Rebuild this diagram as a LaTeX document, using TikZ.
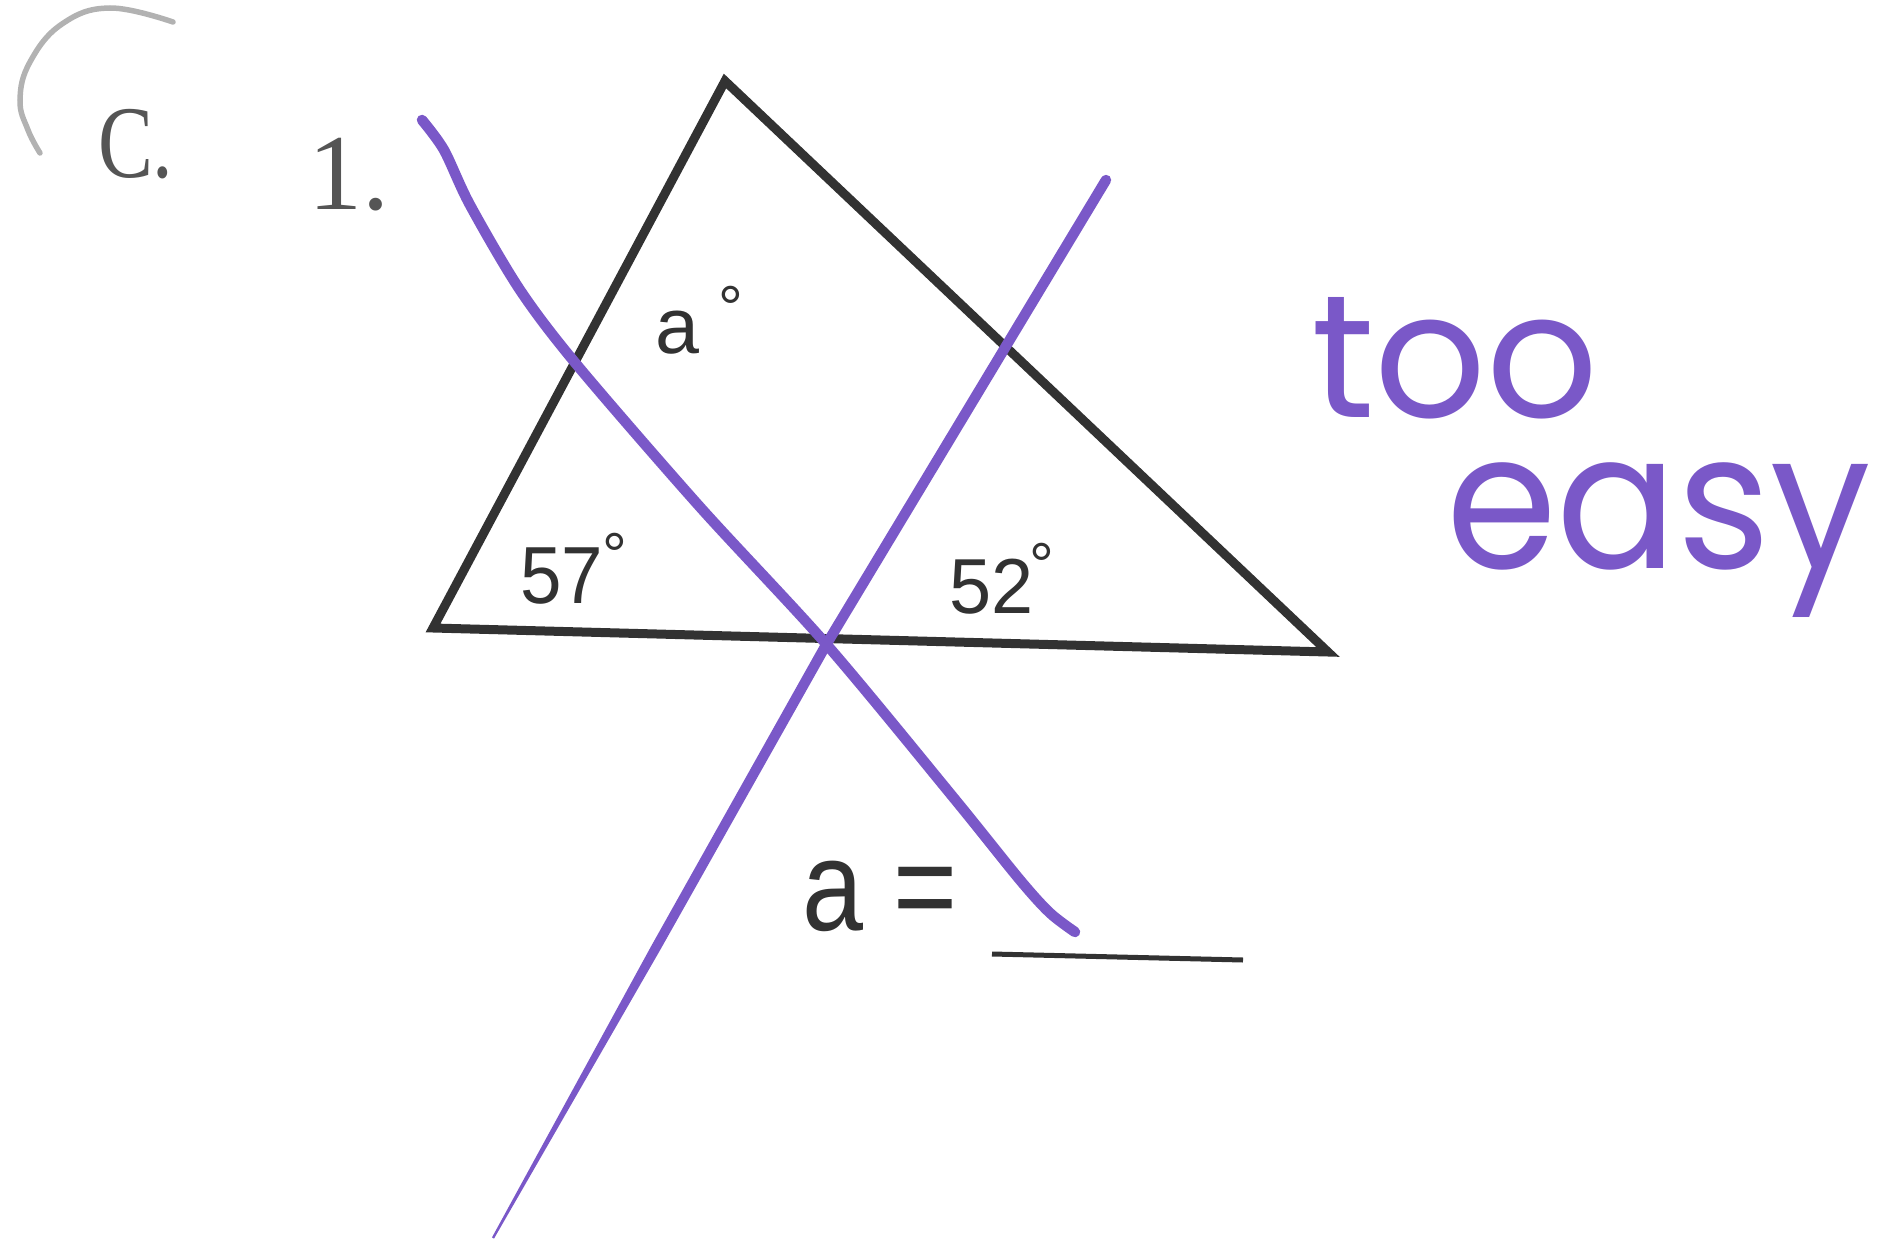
\documentclass[tikz,border=0pt]{standalone}
\usepackage{fontspec}
\setmainfont{Liberation Serif}
\newfontfamily\arialf{Liberation Sans}
\newfontfamily\handf{Poppins}
\usetikzlibrary{calc}
\definecolor{pen}{RGB}{122,88,200}
\definecolor{ink}{RGB}{50,50,50}
\definecolor{printgray}{RGB}{85,85,85}
\begin{document}
\begin{tikzpicture}[x=1pt,y=-1pt,
  tri/.style={draw=ink,line width=9pt,line join=miter},
  penline/.style={draw=pen,line width=10.5pt,line cap=round,line join=round},
  lbl/.style={inner sep=0pt,outer sep=0pt},
  deg/.style={inner sep=0pt,outer sep=0pt,anchor=north,text=ink,font=\arialf\fontsize{62}{62}\selectfont}]
\useasboundingbox (0,0) rectangle (1885,1260);
% faint gray arc
\draw[draw=black!30,line width=5.5pt,line cap=round] plot[smooth,tension=0.7] coordinates {(173,22) (110,8) (62,24) (30,62) (20,100) (28,130) (40,153)};
% labels
\node[lbl,anchor=base west,text=printgray,font=\fontsize{103}{110}\selectfont] (C) at (98,178) {\scalebox{0.8}[1]{C.}};
\node[lbl,anchor=base west,text=printgray,font=\fontsize{108}{110}\selectfont] (one) at (308,210) {1.};
% triangle
\coordinate (T) at (725,81);
\coordinate (L) at (433,628);
\coordinate (R) at (1328,652);
\draw[tri] (T) -- (L) -- (R) -- cycle;
% angle labels
\node[lbl,anchor=base west,text=ink,font=\arialf\fontsize{79}{80}\selectfont] (a) at (655,353) {a};
\node[deg] (da) at (731,286) {°};
\node[lbl,anchor=base west,text=ink,font=\arialf\fontsize{81}{81}\selectfont] (s57) at (520,603) {\scalebox{0.92}[1]{57}};
\node[deg] (d57) at (615,533) {°};
\node[lbl,anchor=base west,text=ink,font=\arialf\fontsize{78}{78}\selectfont] (s52) at (949,613) {\scalebox{0.97}[1]{52}};
\node[deg] (d52) at (1042,543) {°};
% answer line
\node[lbl,anchor=base west,text=ink,font=\arialf\fontsize{129}{130}\selectfont] (ans) at (802,930) {\scalebox{0.85}[1]{a =}};
\coordinate (u1) at (992,954);
\coordinate (u2) at (1243,960);
\draw[draw=ink,line width=5pt] (u1) -- (u2);
% purple pen line 1 (descending)
\draw[penline] plot[smooth,tension=0.5] coordinates {(422,120) (444,150) (470,205) (520,290) (577,365) (700,507) (827,645) (953,797) (1020,880) (1050,913) (1075,932)};
% purple pen line 2 (ascending), tapering at its lower end
\coordinate (p2a) at (1106,180);
\coordinate (p2b) at (826,645);
\coordinate (p2c) at (655.7,948);
\coordinate (p2e) at (493,1238);
\fill[pen] ($(p2a)+(4.5,2.6)$) -- ($(p2b)+(4.5,2.6)$) -- ($(p2c)+(4.2,2.45)$) -- ($(p2e)+(1.0,0.6)$) -- ($(p2e)-(1.0,0.6)$) -- ($(p2c)-(4.2,2.45)$) -- ($(p2b)-(4.5,2.6)$) -- ($(p2a)-(4.5,2.6)$) -- cycle;
\fill[pen] (p2a) circle[radius=5.2pt];
% handwriting
\node[lbl,anchor=base west,text=pen,font=\handf\fontsize{175}{175}\selectfont] (too) at (1311,417) {too};
\node[lbl,anchor=base west,text=pen,font=\handf\fontsize{190}{190}\selectfont] (easy) at (1446,568) {\scalebox{0.94}[1]{easy}};
\end{tikzpicture}
\end{document}
